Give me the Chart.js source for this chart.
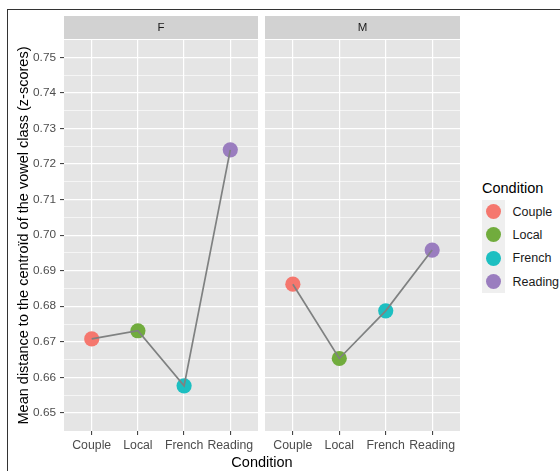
<!DOCTYPE html>
<html>
<head>
<meta charset="utf-8">
<script src="https://cdn.jsdelivr.net/npm/chart.js@4"></script>
<style>
  html, body { margin: 0; padding: 0; background: #fff; width: 560px; height: 471px; overflow: hidden;
    font-family: "Liberation Sans", Arial, sans-serif; }
  .frame { position: absolute; left: 7px; top: 9px; width: 620px; height: 520px;
    border-left: 1px solid #333; border-top: 1px solid #333; }
  .panel { position: absolute; top: 0; height: 471px; }
  #xTitle { position: absolute; left: 62px; width: 400px; top: 453px; line-height: 18px;
    text-align: center; font-size: 14.5px; color: #000; }
  #legendTitle { position: absolute; left: 482px; top: 179px; line-height: 18px; font-size: 14.5px; color: #000; }
  .key { position: absolute; left: 482px; width: 23px; background: #efefef; }
  .dot { position: absolute; left: 4px; width: 15px; height: 15px; border-radius: 50%; }
  .klabel { position: absolute; left: 512.5px; font-size: 12.5px; color: #1a1a1a; line-height: 16px; }
</style>
</head>
<body>
<div class="frame"></div>
<div class="panel" style="left:0;width:258px"><canvas id="chartF"></canvas></div>
<div class="panel" style="left:265px;width:195px"><canvas id="chartM"></canvas></div>
<div id="xTitle">Condition</div>
<div id="legendTitle">Condition</div>
<div id="legendKeys"></div>
<script>
// Conditions along the x axis, one panel per speaker sex
const categories = ['Couple', 'Local', 'French', 'Reading'];
const facets = ['F', 'M'];
// Mean distance to the centroid (z-scores) per condition
const valuesF = [0.6708, 0.6731, 0.6576, 0.7240];
const valuesM = [0.6862, 0.6653, 0.6787, 0.6958];
// Major and minor y breaks
const yMajorTicks = [0.65, 0.66, 0.67, 0.68, 0.69, 0.70, 0.71, 0.72, 0.73, 0.74, 0.75];
const yMinorTicks = [0.655, 0.665, 0.675, 0.685, 0.695, 0.705, 0.715, 0.725, 0.735, 0.745];
const conditionColors = ['#f5776e', '#71ac3d', '#1dbfc1', '#9a7dbf'];

const yTitle = 'Mean distance to the centroïd of the vowel class (z-scores)';
const FONT = '"Liberation Sans", Arial, sans-serif';
const PANEL_BG = '#e5e5e5';
const STRIP_BG = '#d2d2d2';

const yTickObjs = yMajorTicks.map(v => ({ value: v, minor: false }))
  .concat(yMinorTicks.map(v => ({ value: v, minor: true })))
  .sort((a, b) => a.value - b.value);

// Grey panel background and facet strip above the plotting area
const facetPlugin = {
  id: 'facetPanel',
  beforeDraw(chart, args, opts) {
    const { ctx, chartArea: a } = chart;
    ctx.save();
    ctx.fillStyle = PANEL_BG;
    ctx.fillRect(a.left, a.top, a.right - a.left, a.bottom - a.top);
    ctx.fillStyle = STRIP_BG;
    ctx.fillRect(a.left, 16, a.right - a.left, 23);
    ctx.fillStyle = '#1a1a1a';
    ctx.font = '11.5px ' + FONT;
    ctx.textAlign = 'center';
    ctx.textBaseline = 'middle';
    ctx.fillText(opts.label, (a.left + a.right) / 2, 28);
    ctx.restore();
  }
};

function makeChart(canvasId, facet, values, showY) {
  const pts = values.map((v, i) => ({ x: i, y: v }));
  return new Chart(document.getElementById(canvasId), {
    type: 'scatter',
    data: {
      datasets: [
        { data: pts, showLine: true, borderColor: '#7f8181', borderWidth: 1.7,
          pointRadius: 0, pointHoverRadius: 0, order: 0, clip: false },
        { data: pts, showLine: false, pointRadius: 7.6, pointHoverRadius: 7.6,
          pointBackgroundColor: conditionColors, pointBorderWidth: 0, order: 1, clip: false }
      ]
    },
    plugins: [facetPlugin],
    options: {
      responsive: true, maintainAspectRatio: false, animation: false,
      layout: { autoPadding: false, padding: { top: 40, left: 0, right: 0, bottom: 0 } },
      plugins: { legend: { display: false }, tooltip: { enabled: false }, facetPanel: { label: facet } },
      scales: {
        x: {
          type: 'linear', min: -0.6, max: 3.6,
          afterBuildTicks: s => { s.ticks = categories.map((c, i) => ({ value: i })); },
          afterFit: s => { s.height = 40; s.paddingLeft = 0; s.paddingRight = 0; },
          border: { display: false },
          grid: { color: '#ffffff', lineWidth: 1.2, tickLength: 4, tickColor: '#333333', tickWidth: 1 },
          ticks: { color: '#4d4d4d', padding: 3, autoSkip: false, maxRotation: 0,
            font: { family: FONT, size: 12.3 }, callback: v => categories[v] }
        },
        y: {
          type: 'linear', min: 0.6449, max: 0.7549,
          afterBuildTicks: s => { s.ticks = yTickObjs.map(t => ({ value: t.value, minor: t.minor })); },
          afterFit: s => { s.width = showY ? 64 : 0; s.paddingTop = 0; s.paddingBottom = 0; },
          border: { display: false },
          grid: {
            color: '#ffffff',
            lineWidth: c => (c.tick && c.tick.minor) ? 0.6 : 1.2,
            drawTicks: showY, tickLength: 4, tickWidth: 1,
            tickColor: c => (c.tick && c.tick.minor) ? 'rgba(0,0,0,0)' : '#333333'
          },
          ticks: { display: showY, color: '#4d4d4d', padding: 4, autoSkip: false,
            font: { family: FONT, size: 11.8 },
            callback: v => yMajorTicks.some(m => Math.abs(m - v) < 1e-9) ? v.toFixed(2) : '' },
          title: { display: showY, text: yTitle, color: '#000', padding: { top: 15, bottom: 0 },
            font: { family: FONT, size: 14.5 } }
        }
      }
    }
  });
}

makeChart('chartF', facets[0], valuesF, true);
makeChart('chartM', facets[1], valuesM, false);

// Legend keys for the conditions
const keys = document.getElementById('legendKeys');
categories.forEach((c, i) => {
  const top = 200 + i * 23.3;
  const k = document.createElement('div');
  k.className = 'key';
  k.style.top = top + 'px';
  k.style.height = '23.3px';
  const d = document.createElement('div');
  d.className = 'dot';
  d.style.top = '4.1px';
  d.style.background = conditionColors[i];
  k.appendChild(d);
  keys.appendChild(k);
  const l = document.createElement('div');
  l.className = 'klabel';
  l.style.top = (top + 3.6) + 'px';
  l.textContent = c;
  keys.appendChild(l);
});
</script>
</body>
</html>
